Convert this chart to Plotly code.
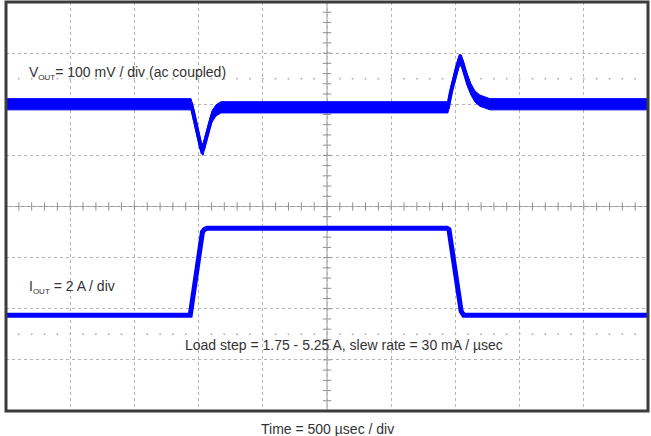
import plotly.graph_objects as go

# ---- data ----
# time in microseconds (500 usec / div, 10 divisions)
vout_time_us = [0, 1441, 1456, 1487, 1519, 1534, 1558, 1581, 1604, 1636, 1674, 1745,
                3442, 3466, 3497, 3530, 3545, 3567, 3590, 3621, 3653, 3691, 3769, 5000]
# VOUT deviation in mV (ac coupled, 100 mV / div), centre of the noise band
vout_mv = [0, 0, -14, -49, -85, -89, -65, -41, -24, -12, -6, -6,
           -6, 25, 58, 86, 86, 70, 48, 29, 15, 7, 0, 0]
# half height of the noise band on VOUT, mV
vout_noise_mv = 11

iout_time_us = [0, 1435, 1530, 1545, 1565, 3435, 3450, 3545, 3565, 5000]
# IOUT in A (2 A / div)
iout_a = [1.75, 1.75, 5.0, 5.1, 5.15, 5.15, 5.1, 1.9, 1.75, 1.75]

vout_label = "V<sub><span style='font-size:8px'>OUT</span></sub>= 100 mV / div (ac coupled)"
iout_label = "I<sub><span style='font-size:8px'>OUT</span></sub> = 2 A / div"
step_label = "Load step = 1.75 - 5.25 A, slew rate = 30 mA / µsec"
time_label = "Time = 500 µsec / div"

# ---- axes setup (oscilloscope screen) ----
T_RANGE = [0, 5000]      # 10 div x 500 us
V_RANGE = [-600, 200]    # 8 div x 100 mV, 0 mV at +2 div
I_RANGE = [-2, 14]       # 8 div x 2 A, 0 A at -3 div
V_CENTER = -200

BLUE = "#0000ff"
TXT = "#333333"
FONT = "Liberation Sans, Arial, sans-serif"

fig = go.Figure()

# dotted rows at +/-2.5 div
dot_x = [i * 100 for i in range(1, 50)]
for yv in (50, -450):
    fig.add_trace(go.Scatter(x=dot_x, y=[yv] * len(dot_x), mode="markers",
                             marker=dict(size=2, color="#b8b8b8"),
                             hoverinfo="skip", showlegend=False))

# minor ticks on centre lines
fig.add_trace(go.Scatter(x=dot_x, y=[V_CENTER] * len(dot_x), mode="markers",
                         marker=dict(symbol="line-ns", size=6,
                                     line=dict(width=1, color="#909090")),
                         hoverinfo="skip", showlegend=False))
tick_y = [V_RANGE[0] + 20 * i for i in range(1, 40)]
fig.add_trace(go.Scatter(x=[2500] * len(tick_y), y=tick_y, mode="markers",
                         marker=dict(symbol="line-ew", size=6,
                                     line=dict(width=1, color="#909090")),
                         hoverinfo="skip", showlegend=False))

# VOUT noise band (closed polygon) + centre
band_x = vout_time_us + vout_time_us[::-1]
band_y = [v + vout_noise_mv for v in vout_mv] + [v - vout_noise_mv for v in vout_mv[::-1]]
fig.add_trace(go.Scatter(x=band_x, y=band_y, mode="lines", fill="toself",
                         fillcolor=BLUE, line=dict(color=BLUE, width=1),
                         hoverinfo="skip", showlegend=False))
fig.add_trace(go.Scatter(x=vout_time_us, y=vout_mv, mode="lines",
                         line=dict(color=BLUE, width=4),
                         showlegend=False, name="VOUT"))
fig.add_trace(go.Scatter(x=iout_time_us, y=iout_a, mode="lines", yaxis="y2",
                         line=dict(color=BLUE, width=5),
                         showlegend=False, name="IOUT"))

# channel ground markers at left
fig.add_trace(go.Scatter(x=[-25], y=[0], mode="markers", cliponaxis=False,
                         marker=dict(symbol="triangle-right", size=6, color="#333333"),
                         hoverinfo="skip", showlegend=False))
fig.add_trace(go.Scatter(x=[-25], y=[0], mode="markers", cliponaxis=False, yaxis="y2",
                         marker=dict(symbol="triangle-right", size=6, color="#333333"),
                         hoverinfo="skip", showlegend=False))

shapes = [
    dict(type="line", xref="x", yref="paper", x0=2500, x1=2500, y0=0, y1=1,
         line=dict(color="#9a9a9a", width=1), layer="below"),
    dict(type="line", xref="paper", yref="y", x0=0, x1=1, y0=V_CENTER, y1=V_CENTER,
         line=dict(color="#9a9a9a", width=1), layer="below"),
    dict(type="rect", xref="paper", yref="paper", x0=0, x1=1, y0=0, y1=1,
         line=dict(color="#3c3c3c", width=3), layer="above"),
]

annotations = [
    dict(x=160, y=62, xref="x", yref="y", text=vout_label, showarrow=False,
         xanchor="left", yanchor="middle", font=dict(size=14, color=TXT, family=FONT)),
    dict(x=160, y=-357, xref="x", yref="y", text=iout_label, showarrow=False,
         xanchor="left", yanchor="middle", font=dict(size=14, color=TXT, family=FONT)),
    dict(x=2632, y=-470, xref="x", yref="y", text=step_label, showarrow=False,
         xanchor="center", yanchor="middle", font=dict(size=14, color=TXT, family=FONT)),
    dict(x=0.501, y=-0.044, xref="paper", yref="paper", text=time_label, showarrow=False,
         xanchor="center", yanchor="middle", font=dict(size=14, color=TXT, family=FONT)),
]

grid = dict(showgrid=True, gridcolor="#b4b4b4", griddash="dot", gridwidth=1,
            showticklabels=False, zeroline=False, ticks="", showline=False)

fig.update_layout(
    width=651, height=436,
    margin=dict(l=6, r=3, t=2, b=25),
    paper_bgcolor="white", plot_bgcolor="white",
    xaxis=dict(range=T_RANGE, dtick=500, tick0=0, **grid),
    yaxis=dict(range=V_RANGE, dtick=100, tick0=-600, **grid),
    yaxis2=dict(range=I_RANGE, overlaying="y", visible=False),
    shapes=shapes, annotations=annotations,
    showlegend=False,
)

fig.write_html("out.html")
